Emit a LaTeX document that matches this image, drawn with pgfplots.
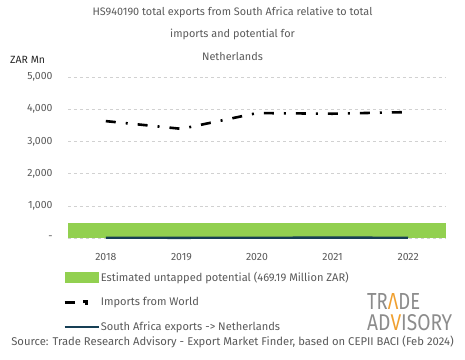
\documentclass[border=0pt]{standalone}
\usepackage{pgfplots}
\pgfplotsset{compat=1.18}
\usepackage{fontspec}
\setmainfont{Fira Sans}
\definecolor{txt}{HTML}{595959}
\definecolor{pot}{HTML}{92D050}
\definecolor{exp}{HTML}{163F55}
\definecolor{orng}{HTML}{F0A030}
\begin{document}
\begin{tikzpicture}[x=1bp,y=1bp]
\useasboundingbox (0,0) rectangle (465,359);
\begin{axis}[
  at={(68bp,121bp)}, anchor=south west,
  scale only axis, width=378bp, height=161bp,
  xmin=-0.5, xmax=4.5, ymin=0, ymax=5000,
  axis line style={draw=none},
  tick style={draw=none},
  xtick={0,1,2,3,4},
  xticklabels={2018,2019,2020,2021,2022},
  ytick={0,1000,2000,3000,4000,5000},
  yticklabels={-,{1,000},{2,000},{3,000},{4,000},{5,000}},
  ymajorgrids, grid style={dashed, color=black!18, line width=0.5pt},
  ticklabel style={font=\fontsize{10.5}{12}\selectfont, text=txt},
  yticklabel style={xshift=-12bp},
  xticklabel style={yshift=-12bp},
  legend style={at={(-0.013,-0.205)}, anchor=north west, draw=none, fill=none,
    font=\fontsize{11.1}{12}\selectfont, text=txt, row sep=12.5bp, inner sep=0pt,
    nodes={inner sep=1pt}},
  legend cell align=left,
  clip=false,
]
\addplot[draw=none, fill=pot, area legend,
  legend image code/.code={\fill[pot] (0bp,-5.5bp) rectangle (34bp,5.5bp);}]
  coordinates {(-0.5,469.19) (4.5,469.19)} \closedcycle;
\addlegendentry{Estimated untapped potential (469.19 Million ZAR)}
\addplot[black, line width=2.6bp, dash pattern=on 10bp off 10bp on 2bp off 10bp,
  legend image code/.code={\draw[black, line width=2.6bp] (0bp,0) -- (10bp,0); \fill[black] (20bp,-1bp) rectangle (22bp,1bp);}]
  coordinates {(0,3630) (1,3390) (2,3880) (3,3860) (4,3910)};
\addlegendentry{Imports from World}
\addplot[exp, line width=2.4bp,
  legend image code/.code={\draw[exp, line width=2.4bp] (0bp,0) -- (34bp,0);}]
  coordinates {(0,8) (1,6) (2,9) (3,10) (4,9)};
\addlegendentry{South Africa exports -> Netherlands}
\end{axis}
\begin{scope}[font=\fontsize{10.9}{12}\selectfont, text=txt]
\node at (232.5,347) {HS940190 total exports from South Africa relative to total};
\node at (232.5,325) {imports and potential for};
\node at (232.5,303) {Netherlands};
\end{scope}
\node[anchor=west, inner sep=0pt, font=\fontsize{10.5}{12}\selectfont, text=black!85] at (10,299) {ZAR Mn};
\node[font=\fontsize{11.3}{13}\selectfont, text=txt] at (232.5,17) {Source: Trade Research Advisory - Export Market Finder, based on CEPII BACI (Feb 2024)};
\node[anchor=north west, inner sep=0pt, text=black!45] at (367,66)
  {\resizebox{53bp}{16bp}{TR\textcolor{orng}{Λ}DE}};
\node[anchor=north west, inner sep=0pt, text=black!45] at (367,45)
  {\resizebox{85bp}{16bp}{AD\textcolor{orng}{V}ISORY}};
\end{tikzpicture}
\end{document}
